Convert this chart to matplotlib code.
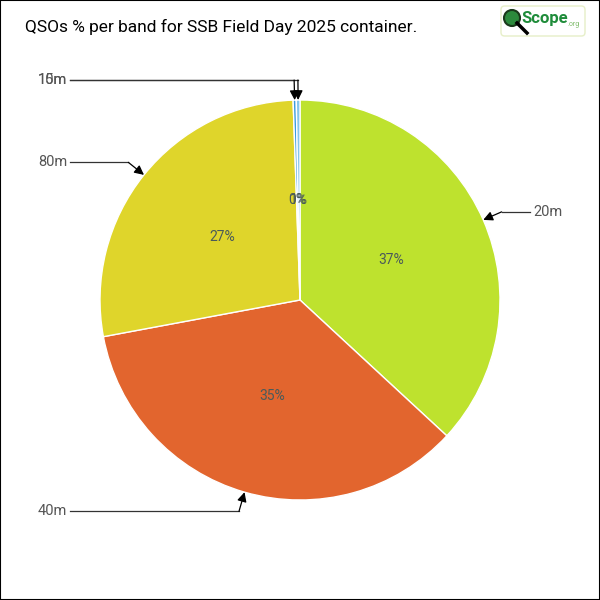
import numpy as np
import matplotlib
matplotlib.use('Agg')
import matplotlib.pyplot as plt
from matplotlib.patches import Rectangle, FancyBboxPatch, Circle

plt.rcParams['font.family'] = ['Roboto', 'DejaVu Sans']

bands = ['20m', '40m', '80m', '15m', '10m']
shares = [36.9, 35.2, 27.4, 0.25, 0.3]
colors = ['#BEE22E', '#E2652E', '#DFD52B', '#3C9BDC', '#85C5EC']
pct_text = ['37%', '35%', '27%', '0%', '1%']

fig = plt.figure(figsize=(6, 6), dpi=100)
ax = fig.add_axes([100 / 600, 100 / 600, 400 / 600, 400 / 600])

wedges, _ = ax.pie(shares, colors=colors, startangle=90, counterclock=False,
                   radius=1.0, wedgeprops=dict(edgecolor='white', linewidth=1))
ax.set_xlim(-1, 1)
ax.set_ylim(-1, 1)
ax.set_aspect('equal')
ax.axis('off')

for w, pct, band in zip(wedges, pct_text, bands):
    mid = np.deg2rad((w.theta1 + w.theta2) / 2)
    cx, cy = np.cos(mid), np.sin(mid)
    ax.text(0.5 * cx, 0.5 * cy, pct, ha='center', va='center',
            fontsize=10, color='#4a5a5a')
    # connector: edge point -> elbow at 1.1 radius -> horizontal to label
    ex, ey = 1.1 * cx, 1.1 * cy
    side = 1 if cx > 0.01 else -1
    lx = 1.15 * side
    ax.plot([lx, ex], [ey, ey], color='#333333', lw=0.9, clip_on=False)
    ax.annotate('', xy=(cx, cy), xytext=(ex, ey),
                arrowprops=dict(arrowstyle='-|>', color='black', lw=0.9,
                                mutation_scale=14, shrinkA=0, shrinkB=0),
                annotation_clip=False)
    ax.text(lx + 0.015 * side, ey, band, ha='left' if side > 0 else 'right',
            va='center', fontsize=10.5, color='#555555')

fig.text(25 / 600, 1 - 27 / 600, 'QSOs % per band for SSB Field Day 2025 container.',
         fontsize=12.5, color='black', ha='left', va='center')

# logo
fig.patches.append(FancyBboxPatch((501 / 600, 1 - 36 / 600), 84 / 600, 30 / 600,
                                  boxstyle='round,pad=0,rounding_size=0.006',
                                  transform=fig.transFigure, facecolor='white',
                                  edgecolor='#E6EFC8', lw=1))
fig.patches.append(Circle((512 / 600, 1 - 18 / 600), 8 / 600, transform=fig.transFigure,
                          facecolor='#2C8A3C', edgecolor='#1a3a1a', lw=1.5))
fig.lines.append(plt.Line2D([517 / 600, 527 / 600], [1 - 23 / 600, 1 - 33 / 600],
                            transform=fig.transFigure, color='black', lw=2.5))
fig.text(521 / 600, 1 - 18 / 600, 'Scope', fontsize=12, fontweight='bold',
         color='#1F8C3A', ha='left', va='center')
fig.text(567 / 600, 1 - 24 / 600, '.org', fontsize=5, color='#7DBB6A',
         ha='left', va='center')

# figure border
fig.patches.append(Rectangle((0, 0), 1, 1, transform=fig.transFigure, fill=False,
                             edgecolor='black', lw=1.5))

fig.savefig('out.png', dpi=100)
